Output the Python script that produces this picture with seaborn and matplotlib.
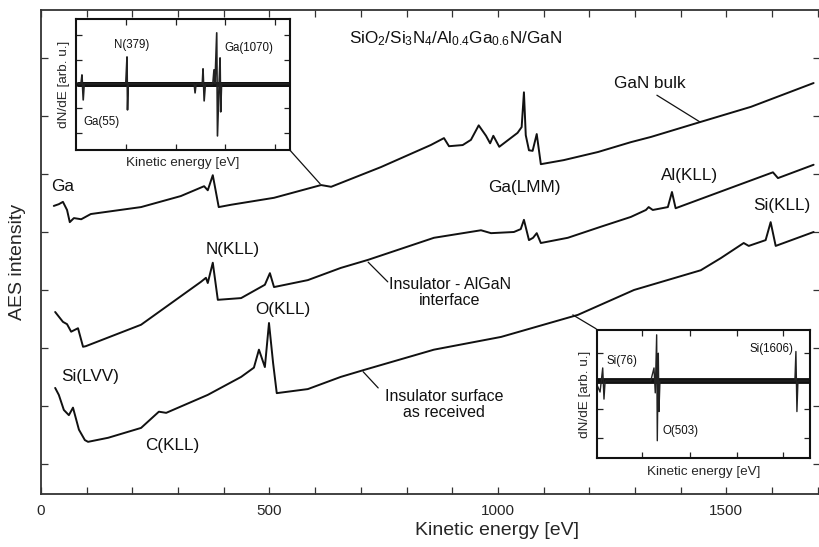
import matplotlib
matplotlib.use("Agg")
import matplotlib.pyplot as plt
from matplotlib.ticker import MultipleLocator
import pandas as pd
import seaborn as sns

# ---------------- data ----------------
# main panel: kinetic energy [eV] vs. AES intensity (arbitrary, offset spectra)
bulk_E = [28, 39, 48, 57, 63, 72, 88, 109, 219, 306, 357, 365, 376, 389, 416, 510,
          613, 635, 744, 853, 882, 893, 923, 941, 958, 974, 983, 990, 1003, 1043,
          1052, 1057, 1061, 1068, 1076, 1085, 1094, 1144, 1219, 1291, 1335, 1444,
          1554, 1691]
bulk_I = [4.45, 4.48, 4.52, 4.38, 4.17, 4.24, 4.22, 4.31, 4.43, 4.62, 4.79, 4.72,
          4.98, 4.43, 4.47, 4.59, 4.81, 4.78, 5.12, 5.50, 5.62, 5.48, 5.50, 5.59,
          5.84, 5.66, 5.53, 5.66, 5.47, 5.71, 5.81, 6.41, 5.67, 5.41, 5.40, 5.69,
          5.17, 5.24, 5.38, 5.55, 5.64, 5.90, 6.16, 6.57]

intf_E = [31, 48, 57, 66, 81, 92, 98, 219, 350, 361, 365, 376, 387, 438, 481, 490,
          501, 510, 584, 656, 716, 860, 963, 985, 1035, 1050, 1057, 1068, 1077,
          1085, 1094, 1153, 1225, 1291, 1324, 1330, 1339, 1372, 1381, 1389, 1516,
          1602, 1613, 1691]
intf_I = [2.62, 2.45, 2.41, 2.28, 2.34, 2.02, 2.03, 2.40, 3.14, 3.21, 3.12, 3.47,
          2.83, 2.86, 3.05, 3.09, 3.29, 3.05, 3.17, 3.38, 3.52, 3.90, 4.03, 3.98,
          4.00, 4.05, 4.21, 3.86, 3.90, 3.98, 3.81, 3.90, 4.09, 4.26, 4.38, 4.43,
          4.38, 4.43, 4.69, 4.41, 4.78, 5.03, 4.93, 5.16]

surf_E = [31, 39, 50, 61, 70, 83, 96, 103, 147, 219, 258, 274, 365, 438, 466, 477,
          490, 499, 508, 516, 584, 656, 707, 860, 1007, 1175, 1298, 1444, 1488,
          1538, 1549, 1586, 1597, 1608, 1691]
surf_I = [1.31, 1.19, 0.93, 0.84, 0.97, 0.59, 0.41, 0.38, 0.45, 0.62, 0.90, 0.88,
          1.19, 1.50, 1.66, 1.97, 1.67, 2.43, 1.74, 1.22, 1.29, 1.50, 1.62, 1.97,
          2.19, 2.57, 3.00, 3.34, 3.55, 3.81, 3.76, 3.86, 4.17, 3.76, 4.00]

x_ticks = [0, 500, 1000, 1500]
x_tick_labels = ["0", "500", "1000", "1500"]
y_ticks = [0, 1, 2, 3, 4, 5, 6, 7]

# inset 1 (GaN bulk derivative spectrum)
in1_base_E = [16, 1720]
in1_base_I = [0, 0]
in1_E = [16, 40, 48, 58, 66, 400, 410, 414, 420, 950, 957, 965, 1015, 1021, 1030,
         1040, 1100, 1109, 1117, 1131, 1137, 1150, 1158, 1163, 1170, 1720]
in1_I = [0, 0, 0.37, -0.66, 0, 0, 1.11, -1.07, 0, 0, -0.37, 0, 0, 0.62, -0.70,
         0, 0, 0.58, 0, 2.10, -2.14, 0, 1.07, -1.15, 0, 0]
in1_labels = ["N(379)", "Ga(1070)", "Ga(55)"]

# inset 2 (insulator surface derivative spectrum)
in2_base_E = [31, 1709]
in2_base_I = [0, 0]
in2_E = [31, 55, 76, 86, 95, 455, 462, 480, 490, 501, 506, 514, 519, 527, 1590,
         1598, 1606, 1614, 1709]
in2_I = [-0.14, -0.39, 0.46, -0.64, 0, 0, 0.14, 0.46, -0.42, 1.63, -2.11, 0.98,
         -1.08, 0, 0, 1.04, -1.08, 0, 0]
in2_labels = ["Si(76)", "O(503)", "Si(1606)"]

# ---------------- style ----------------
sns.set_theme(style="ticks")
plt.rcParams["font.family"] = ["Liberation Sans", "DejaVu Sans"]
plt.rcParams["mathtext.fontset"] = "custom"
plt.rcParams["mathtext.rm"] = "Liberation Sans"
plt.rcParams["mathtext.it"] = "Liberation Sans:italic"
plt.rcParams["mathtext.bf"] = "Liberation Sans:bold"

INK = "#111111"
W, H = 820, 547
fig = plt.figure(figsize=(W / 100, H / 100), dpi=100)
fig.patch.set_facecolor("white")


def px_axes(l, t, r, b):
    return [l / W, 1 - b / H, (r - l) / W, (b - t) / H]


ax = fig.add_axes(px_axes(41, 10, 820, 494))

for E, I in [(bulk_E, bulk_I), (intf_E, intf_I), (surf_E, surf_I)]:
    df = pd.DataFrame({"E": E, "I": I})
    sns.lineplot(data=df, x="E", y="I", ax=ax, color=INK, lw=1.4,
                 sort=False, estimator=None)

ax.set_xlim(0, 1705)
ax.set_ylim(-0.52, 7.83)
ax.set_xticks(x_ticks)
ax.set_xticklabels(x_tick_labels)
ax.xaxis.set_minor_locator(MultipleLocator(100))
ax.set_yticks(y_ticks)
ax.set_yticklabels([])
ax.tick_params(which="both", direction="in", top=True, right=True, length=5,
               width=0.9, color="#333333", labelsize=11, pad=7)
for s in ax.spines.values():
    s.set_linewidth(1.3)
    s.set_color("#333333")
ax.set_xlabel("Kinetic energy [eV]", fontsize=14)
ax.set_ylabel("AES intensity", fontsize=14)
ax.xaxis.set_label_coords(0.585, -0.058)
ax.yaxis.set_label_coords(-0.019, 0.48)

# peak labels
peak_fs = 12.3
for txt, x, y in [("Ga", 48, 4.78), ("N(KLL)", 420, 3.69), ("O(KLL)", 530, 2.67),
                  ("Ga(LMM)", 1057, 4.76), ("Al(KLL)", 1420, 4.98),
                  ("Si(KLL)", 1622, 4.45), ("Si(LVV)", 107, 1.50),
                  ("C(KLL)", 287, 0.31)]:
    ax.text(x, y, txt, fontsize=peak_fs, ha="center", va="center", color=INK)

ax.text(908, 7.34, r"SiO$_2$/Si$_3$N$_4$/Al$_{0.4}$Ga$_{0.6}$N/GaN", fontsize=12.3,
        ha="center", va="center", color=INK)

# annotations with leader lines
ax.text(1333, 6.57, "GaN bulk", fontsize=12.3, ha="center", va="center", color=INK)
ax.plot([1348, 1442], [6.36, 5.90], color=INK, lw=0.9)
ax.text(895, 2.95, "Insulator - AlGaN\ninterface", fontsize=11.5, ha="center",
        va="center", color=INK, linespacing=1.1, multialignment="center")
ax.plot([716, 759], [3.48, 3.14], color=INK, lw=0.9)
ax.text(882, 1.02, "Insulator surface\nas received", fontsize=11.5, ha="center",
        va="center", color=INK, linespacing=1.1, multialignment="center")
ax.plot([705, 738], [1.59, 1.31], color=INK, lw=0.9)
# connectors to insets
ax.plot([545, 611], [5.41, 4.83], color=INK, lw=0.9)
ax.plot([1164, 1215], [2.57, 2.33], color=INK, lw=0.9)


def style_inset(a, ylabel_coords, xlabel_coords):
    a.set_facecolor("white")
    a.set_xticklabels([])
    a.set_yticklabels([])
    a.tick_params(which="both", direction="in", top=True, right=True, length=4,
                  width=0.9, color="#222222")
    for s in a.spines.values():
        s.set_linewidth(1.5)
        s.set_color("#111111")
    a.set_xlabel("Kinetic energy [eV]", fontsize=9.7)
    a.set_ylabel("dN/dE [arb. u.]", fontsize=9.7)
    a.xaxis.set_label_coords(*xlabel_coords)
    a.yaxis.set_label_coords(*ylabel_coords)


# inset 1
a1 = fig.add_axes(px_axes(76, 19, 290, 150))
sns.lineplot(x=in1_base_E, y=in1_base_I, ax=a1, color=INK, lw=3.6, sort=False,
             estimator=None)
sns.lineplot(x=in1_E, y=in1_I, ax=a1, color="#222222", lw=1.2, sort=False,
             estimator=None)
a1.set_xlim(0, 1720)
a1.set_ylim(-2.72, 2.67)
a1.set_xticks([400, 800, 1200, 1600])
a1.set_yticks([-2, -1, 0, 1, 2])
style_inset(a1, (-0.03, 0.5), (0.5, -0.05))
fs_in = 8.3
a1.text(450, 1.60, in1_labels[0], fontsize=fs_in, ha="center", va="center", color=INK)
a1.text(1190, 1.48, in1_labels[1], fontsize=fs_in, ha="left", va="center", color=INK)
a1.text(201, -1.56, in1_labels[2], fontsize=fs_in, ha="center", va="center", color=INK)

# inset 2
a2 = fig.add_axes(px_axes(597, 330, 810, 458))
sns.lineplot(x=in2_base_E, y=in2_base_I, ax=a2, color=INK, lw=4.2, sort=False,
             estimator=None)
sns.lineplot(x=in2_E, y=in2_I, ax=a2, color="#222222", lw=1.0, sort=False,
             estimator=None)
a2.set_xlim(31, 1709)
a2.set_ylim(-2.72, 1.80)
a2.set_xticks([385, 763, 1133, 1495])
a2.set_yticks([-2, -1, 0, 1])
style_inset(a2, (-0.03, 0.5), (0.5, -0.06))
a2.text(228, 0.71, in2_labels[0], fontsize=fs_in, ha="center", va="center", color=INK)
a2.text(692, -1.77, in2_labels[1], fontsize=fs_in, ha="center", va="center", color=INK)
a2.text(1409, 1.13, in2_labels[2], fontsize=fs_in, ha="center", va="center", color=INK)

fig.savefig("out.png", dpi=100, facecolor="white")
